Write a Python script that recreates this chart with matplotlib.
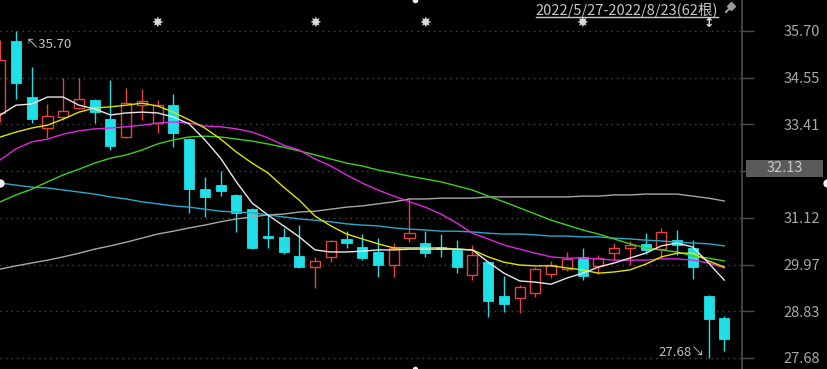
import matplotlib
matplotlib.use("Agg")
import matplotlib.pyplot as plt
from matplotlib.patches import Rectangle
from matplotlib.lines import Line2D
import numpy as np

# ---------------- data ----------------
first_index = -1   # partially visible bar at the left edge
opens = [33.69, 35.45, 34.08, 33.32, 33.59, 33.81, 34.01, 33.54, 33.10, 33.88,
         33.44, 33.88, 33.05, 31.82, 31.92, 31.68, 31.33, 30.67, 30.65, 30.18,
         29.91, 30.16, 30.60, 30.40, 30.28, 29.96, 30.62, 30.50, 30.40, 30.33,
         29.71, 30.03, 29.20, 29.15, 29.27, 29.74, 29.86, 30.16, 29.94, 30.25,
         30.38, 30.48, 30.35, 30.57, 30.38, 29.20, 28.66]
highs = [35.48, 35.70, 34.82, 33.91, 34.55, 34.55, 34.03, 34.50, 34.30, 34.28,
         34.01, 34.15, 33.07, 32.12, 32.27, 31.70, 31.35, 31.19, 30.87, 30.94,
         30.16, 30.57, 30.79, 30.72, 30.62, 30.50, 31.60, 30.79, 30.72, 30.57,
         30.45, 30.05, 29.69, 29.47, 29.91, 30.06, 30.28, 30.38, 30.21, 30.50,
         30.55, 30.74, 30.87, 30.82, 30.57, 29.22, 28.71]
lows = [33.47, 34.03, 33.44, 33.08, 33.52, 33.79, 33.44, 32.78, 33.08, 33.52,
        33.20, 32.85, 31.24, 31.14, 31.65, 30.77, 30.35, 30.38, 30.23, 29.89,
        29.40, 30.03, 30.38, 30.08, 29.67, 29.67, 30.52, 30.16, 30.16, 29.76,
        29.59, 28.68, 28.81, 28.78, 29.18, 29.64, 29.81, 29.59, 29.74, 30.08,
        29.96, 30.23, 30.13, 30.21, 29.62, 27.68, 27.85]
closes = [34.99, 34.42, 33.54, 33.61, 33.74, 34.03, 33.71, 32.88, 33.93, 33.98,
          33.88, 33.20, 31.82, 31.63, 31.78, 31.24, 30.38, 30.62, 30.28, 29.91,
          30.06, 30.55, 30.50, 30.13, 29.96, 30.38, 30.74, 30.25, 30.35, 29.91,
          30.21, 29.08, 29.00, 29.42, 29.86, 29.96, 30.11, 29.69, 30.13, 30.38,
          30.45, 30.33, 30.77, 30.45, 29.91, 28.64, 28.14]

ma5 = [33.64, 33.88, 33.91, 34.08, 34.08, 33.88, 33.79, 33.64, 33.69, 33.71,
       33.69, 33.59, 33.42, 33.03, 32.58, 32.00, 31.48, 31.19, 30.92, 30.65,
       30.33, 30.28, 30.28, 30.30, 30.33, 30.33, 30.35, 30.35, 30.35, 30.35,
       30.33, 30.03, 29.76, 29.57, 29.54, 29.49, 29.64, 29.76, 29.91, 30.01,
       30.13, 30.25, 30.43, 30.50, 30.40, 30.01, 29.59]
ma10 = [33.10, 33.22, 33.32, 33.39, 33.54, 33.71, 33.81, 33.84, 33.88, 33.93,
        33.86, 33.71, 33.52, 33.32, 33.05, 32.73, 32.46, 32.22, 31.87, 31.55,
        31.16, 30.92, 30.72, 30.60, 30.48, 30.38, 30.38, 30.38, 30.38, 30.35,
        30.33, 30.16, 30.03, 29.96, 29.94, 29.94, 29.89, 29.84, 29.76, 29.79,
        29.84, 29.98, 30.16, 30.25, 30.25, 30.06, 29.91]
ma20 = [32.54, 32.81, 32.98, 33.05, 33.17, 33.25, 33.30, 33.32, 33.35, 33.39,
        33.44, 33.47, 33.44, 33.37, 33.35, 33.30, 33.22, 33.08, 32.90, 32.78,
        32.56, 32.39, 32.17, 31.97, 31.80, 31.65, 31.51, 31.38, 31.21, 30.99,
        30.74, 30.60, 30.45, 30.35, 30.25, 30.16, 30.13, 30.13, 30.11, 30.08,
        30.08, 30.08, 30.11, 30.11, 30.08, 30.01, 29.89]
ma30 = [31.51, 31.68, 31.82, 32.00, 32.17, 32.31, 32.46, 32.58, 32.66, 32.78,
        32.93, 33.03, 33.10, 33.12, 33.10, 33.05, 33.00, 32.93, 32.85, 32.76,
        32.66, 32.56, 32.46, 32.39, 32.29, 32.22, 32.14, 32.07, 32.00, 31.90,
        31.80, 31.65, 31.51, 31.36, 31.21, 31.06, 30.94, 30.82, 30.72, 30.60,
        30.48, 30.38, 30.33, 30.28, 30.18, 30.13, 30.06]
ma60 = [31.97, 31.92, 31.87, 31.85, 31.80, 31.75, 31.70, 31.63, 31.58, 31.51,
        31.46, 31.41, 31.38, 31.33, 31.28, 31.26, 31.24, 31.19, 31.14, 31.09,
        31.06, 31.02, 30.97, 30.94, 30.92, 30.87, 30.84, 30.82, 30.79, 30.79,
        30.77, 30.74, 30.72, 30.72, 30.70, 30.67, 30.67, 30.65, 30.65, 30.62,
        30.60, 30.57, 30.55, 30.52, 30.50, 30.48, 30.43]
ma120 = [29.86, 29.94, 30.01, 30.08, 30.16, 30.25, 30.35, 30.43, 30.52, 30.62,
         30.72, 30.79, 30.87, 30.94, 31.02, 31.09, 31.14, 31.19, 31.21, 31.26,
         31.28, 31.33, 31.38, 31.41, 31.46, 31.51, 31.58, 31.58, 31.60, 31.60,
         31.60, 31.63, 31.63, 31.63, 31.63, 31.63, 31.63, 31.65, 31.65, 31.68,
         31.68, 31.70, 31.70, 31.70, 31.65, 31.60, 31.53]

price_ticks = [35.70, 34.55, 33.41, 32.26, 31.12, 29.97, 28.83, 27.68]
price_tick_labels = ["35.70", "34.55", "33.41", "", "31.12", "29.97", "28.83", "27.68"]
range_title = "2022/5/27-2022/8/23(62根)"
high_label = "35.70"
low_label = "27.68"
cursor_label = "32.13"
event_bars = [9, 19, 26, 36]
arrow_bar = 44

# ---------------- style ----------------
UP = "#e5433f"
DOWN = "#1ee0e6"
BG = "#000000"
GRID = "#4a4a4a"
AXCOL = "#4d4d4d"
TXT = "#a9a9a9"

plt.rcParams["font.family"] = ["Noto Sans CJK SC", "DejaVu Sans"]

W, H = 827, 369
fig = plt.figure(figsize=(W / 100, H / 100), dpi=100, facecolor=BG)
ax = fig.add_axes([0, 0, 742 / W, 1])
ax.set_facecolor(BG)

n = len(opens)
xs = np.arange(first_index, first_index + n)

ax.set_xlim(-1.0165, 46.125)
ax.set_ylim(27.41, 36.46)

# grid
for t in price_ticks:
    ax.axhline(t, color=GRID, lw=1.0, ls=(0, (1, 3)), zorder=0)

# candles
bw = 0.64
for x, o, h, l, c in zip(xs, opens, highs, lows, closes):
    if c > o:
        ax.plot([x, x], [c, h], color=UP, lw=1.0, zorder=3, solid_capstyle="butt")
        ax.plot([x, x], [l, o], color=UP, lw=1.0, zorder=3, solid_capstyle="butt")
        ax.add_patch(Rectangle((x - bw / 2, o), bw, c - o, fill=False,
                               edgecolor=UP, lw=1.0, zorder=3))
    else:
        ax.plot([x, x], [l, h], color=DOWN, lw=1.0, zorder=3, solid_capstyle="butt")
        hgt = max(o - c, 0.03)
        ax.add_patch(Rectangle((x - bw / 2, c), bw, hgt, facecolor=DOWN,
                               edgecolor=DOWN, lw=0.6, zorder=3))

# moving averages
for series, col in [(ma120, "#a6a6a6"), (ma60, "#2aa8c8"), (ma30, "#3fcf1e"),
                    (ma20, "#de28de"), (ma10, "#e2e200"), (ma5, "#e8e8e8")]:
    ax.plot(xs, series, color=col, lw=1.0, zorder=4)

# right axis
for s in ["top", "left", "bottom"]:
    ax.spines[s].set_visible(False)
ax.spines["right"].set_color(AXCOL)
ax.spines["right"].set_linewidth(1.2)
ax.set_xticks([])
ax.yaxis.tick_right()
ax.set_yticks(price_ticks)
ax.set_yticklabels(price_tick_labels)
ax.tick_params(axis="y", length=8.6, width=1.0, color=AXCOL, labelcolor=TXT,
               labelsize=10.5, pad=21)

# cursor price box
box_y = 1 - 168 / H
fig.patches.append(Rectangle((746 / W, box_y - 8.5 / H), 77 / W, 17 / H,
                             transform=fig.transFigure, facecolor="#5a5a5a",
                             edgecolor="none", zorder=5))
fig.text(784.5 / W, box_y, cursor_label, color="#c8c8c8", fontsize=10.5,
         ha="center", va="center", zorder=6)

# high / low annotations
ax.text(26 / 742, 1 - 45 / H, "↖" + high_label, transform=ax.transAxes,
        color="#c4c4c4", fontsize=9.5, ha="left", va="center", zorder=6)
ax.text(705 / 742, 1 - 352 / H, low_label + "↘", transform=ax.transAxes,
        color="#c4c4c4", fontsize=9.5, ha="right", va="center", zorder=6)

# event markers
for b in event_bars:
    ax.text(b, 36.46 - 23 / 40.77, "✸", color="#d8d8d8", fontsize=10,
            ha="center", va="center", family=["DejaVu Sans"], zorder=6)
ax.text(arrow_bar, 36.46 - 23 / 40.77, "↕", color="#e0e0e0", fontsize=9,
        fontweight="bold", ha="center", va="center", family=["DejaVu Sans"], zorder=6)

# range title with underline
ttl = fig.text(718 / W, 1 - 10 / H, range_title, color="#c8c8c8", fontsize=10.5,
               ha="right", va="center", zorder=6)
fig.canvas.draw()
bb = ttl.get_window_extent()
fig.add_artist(Line2D([bb.x0, bb.x1], [bb.y0 + 1, bb.y0 + 1], color="#c8c8c8",
                      lw=1.0, transform=None))
# pin icon
fig.add_artist(Line2D([726, 733], [H - 12, H - 5], color="#9a9a9a", lw=1.5, transform=None))
fig.add_artist(Line2D([731], [H - 6], marker="D", ms=4, color="#9a9a9a", transform=None))

# crosshair handle dots
for (px, py, ms) in [(0, 183, 6), (W, 183, 6), (415, 0, 4), (415, H, 4)]:
    fig.add_artist(Line2D([px], [H - py], marker="o", ms=ms, color="#f0f0f0",
                          mec="none", transform=None))

fig.savefig("out.png", dpi=100, facecolor=BG)
